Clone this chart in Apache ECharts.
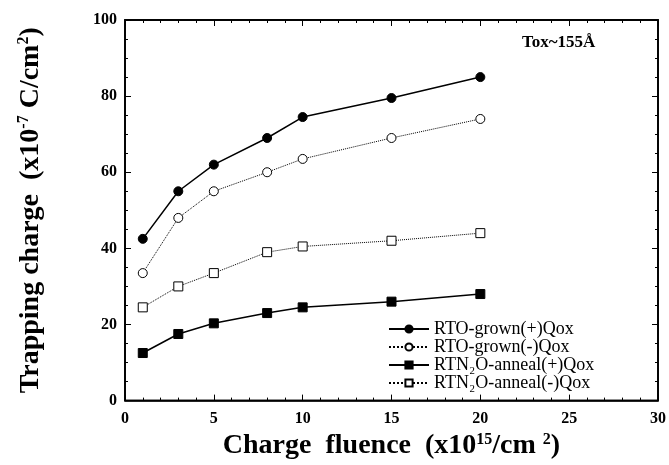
<!DOCTYPE html>
<html>
<head>
<meta charset="utf-8">
<script src="https://cdn.jsdelivr.net/npm/echarts@6/dist/echarts.min.js"></script>
<style>
  html, body { margin: 0; padding: 0; background: #fff; }
  #chart { width: 669px; height: 465px; }
</style>
</head>
<body>
<div id="chart"></div>
<script>
// charge fluence (x10^15/cm^2)
const fluence = [1, 3, 5, 8, 10, 15, 20]
// trapping charge (x10^-7 C/cm^2)
const rtoPos = [42.5, 55, 62, 69, 74.5, 79.5, 85]
const rtoNeg = [33.5, 48, 55, 60, 63.5, 69, 74]
const rtn2oPos = [12.5, 17.5, 20.3, 23, 24.5, 26, 28]
const rtn2oNeg = [24.5, 30, 33.5, 39, 40.5, 42, 44]

const seriesNames = ['RTO-grown(+)Qox', 'RTO-grown(-)Qox', 'RTN2O-anneal(+)Qox', 'RTN2O-anneal(-)Qox']

const serif = 'Liberation Serif'

function pairs(ys) {
  return fluence.map((x, i) => [x, ys[i]])
}

function makeSeries(name, ys, symbol, filled, dotted) {
  return {
    name: name,
    type: 'line',
    data: pairs(ys),
    symbol: symbol,
    symbolSize: 9,
    showSymbol: true,
    lineStyle: { color: '#000', width: dotted ? 1 : 1.5, type: dotted ? 'dotted' : 'solid' },
    itemStyle: { color: filled ? '#000' : '#fff', borderColor: '#000', borderWidth: 1 }
  }
}

const chart = echarts.init(document.getElementById('chart'))

const axisBase = {
  type: 'value',
  axisLine: { show: true, onZero: false, lineStyle: { color: '#000', width: 1.5 } },
  axisTick: { show: true, inside: true, length: 6, lineStyle: { color: '#000', width: 1 } },
  minorTick: { show: true, length: 3, lineStyle: { color: '#000', width: 1 } },
  splitLine: { show: false },
  minorSplitLine: { show: false }
}

const supStyle = { fontFamily: serif, fontWeight: 'bold', fontSize: 16, color: '#000', padding: [0, 0, 13, 0] }

chart.setOption({
  animation: false,
  grid: { left: 125, right: 9, top: 20, bottom: 64, show: true, borderColor: '#000', borderWidth: 1.5 },
  legend: {
    orient: 'vertical',
    left: 383,
    top: 315,
    itemWidth: 40,
    itemHeight: 9,
    itemGap: 0,
    data: seriesNames,
    textStyle: { fontFamily: serif, fontSize: 18, lineHeight: 15, color: '#000' },
    formatter: function (name) {
      return name.replace('RTN2O', 'RTN\u2082O')
    }
  },
  xAxis: [
    Object.assign({}, axisBase, {
      min: 0, max: 30, interval: 5,
      minorTick: Object.assign({}, axisBase.minorTick, { splitNumber: 5 }),
      axisLabel: { fontFamily: serif, fontWeight: 'bold', fontSize: 16, color: '#000', margin: 10 },
      name: 'Charge  fluence  (x10{sup|15}/cm {sup|2})',
      nameLocation: 'middle',
      nameGap: 30,
      nameTextStyle: {
        fontFamily: serif, fontWeight: 'bold', fontSize: 28, color: '#000',
        rich: { sup: supStyle }
      }
    }),
    Object.assign({}, axisBase, {
      position: 'top',
      min: 0, max: 30, interval: 5,
      minorTick: Object.assign({}, axisBase.minorTick, { splitNumber: 5 }),
      axisLabel: { show: false }
    })
  ],
  yAxis: [
    Object.assign({}, axisBase, {
      min: 0, max: 100, interval: 20,
      minorTick: Object.assign({}, axisBase.minorTick, { splitNumber: 4 }),
      axisLabel: { fontFamily: serif, fontWeight: 'bold', fontSize: 16, color: '#000', margin: 8 },
      name: 'Trapping charge  (x10{sup|-7} C/cm{sup|2})',
      nameLocation: 'middle',
      nameRotate: 90,
      nameGap: 80,
      nameTextStyle: {
        fontFamily: serif, fontWeight: 'bold', fontSize: 28, color: '#000',
        rich: { sup: supStyle }
      }
    }),
    Object.assign({}, axisBase, {
      position: 'right',
      min: 0, max: 100, interval: 20,
      minorTick: Object.assign({}, axisBase.minorTick, { splitNumber: 4 }),
      axisLabel: { show: false }
    })
  ],
  series: [
    makeSeries(seriesNames[0], rtoPos, 'circle', true, false),
    makeSeries(seriesNames[1], rtoNeg, 'circle', false, true),
    makeSeries(seriesNames[2], rtn2oPos, 'rect', true, false),
    makeSeries(seriesNames[3], rtn2oNeg, 'rect', false, true),
    // empty series so the top and right frame axes get laid out
    { type: 'line', xAxisIndex: 1, yAxisIndex: 1, data: [] }
  ]
})

// frame box from the grid rect, plus the oxide thickness note
const rect = chart.getModel().getComponent('grid').coordinateSystem.getRect()
chart.setOption({
  graphic: [
    {
      type: 'rect',
      shape: { x: rect.x, y: rect.y, width: rect.width, height: rect.height },
      style: { fill: 'none', stroke: '#000', lineWidth: 1.5 },
      silent: true
    },
    {
      type: 'text',
      left: 522,
      top: 34,
      style: { text: 'Tox~155Å', font: 'bold 17px "Liberation Serif"', fill: '#000' }
    }
  ]
})
</script>
</body>
</html>
